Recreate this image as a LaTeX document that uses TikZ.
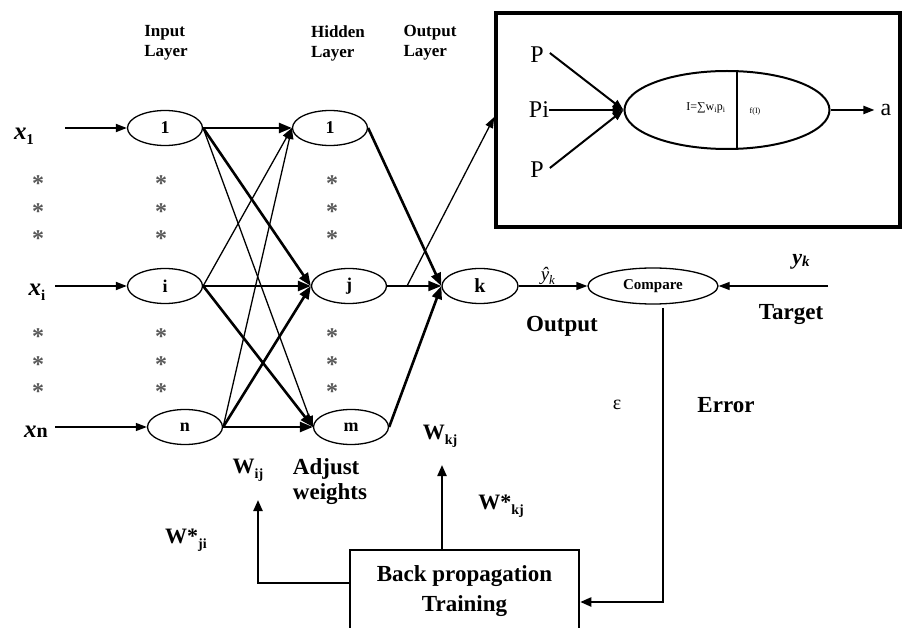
\documentclass[tikz,border=0pt]{standalone}
\usepackage{fontspec}
\setmainfont{Liberation Serif}
\usetikzlibrary{arrows.meta,shapes.geometric,calc}
\begin{document}
\begin{tikzpicture}[x=1pt,y=-1pt,
  neu/.style={ellipse, draw, line width=1.3pt, minimum width=75pt, minimum height=35pt, inner sep=0pt, font=\fontsize{18}{20}\selectfont\bfseries},
  thk/.style={line width=2.6pt, -{Triangle[length=13pt,width=10pt]}},
  thn/.style={line width=1.3pt, -{Triangle[length=11pt,width=8pt]}},
  fb/.style={line width=2.2pt, -{Triangle[length=11pt,width=9pt]}},
  lay/.style={font=\fontsize{17}{20}\selectfont\bfseries, align=left, inner sep=0pt},
  big/.style={font=\fontsize{23}{26}\selectfont\bfseries, align=left, inner sep=0pt},
  wl/.style={font=\fontsize{22}{22}\selectfont\bfseries, inner sep=0pt},
  star/.style={font=\fontsize{24}{24}\selectfont\bfseries, text=black!65, inner sep=0pt, anchor=base},
  xl/.style={font=\fontsize{25}{25}\selectfont\bfseries, inner sep=0pt},
  pl/.style={font=\fontsize{24}{24}\selectfont, inner sep=0pt}
]
\useasboundingbox (0,0) rectangle (903,628);

% layer titles
\node[lay] (tin) at (166,43) {Input\\Layer};
\node[lay] (thid) at (338,43) {Hidden\\Layer};
\node[lay] (tout) at (430,43) {Output\\Layer};

% neurons
\node[neu] (in1) at (165,128) {1};
\node[neu] (ini) at (165,286) {i};
\node[neu] (inn) at (185,427) {n};
\node[neu] (h1) at (330,128) {1};
\node[neu] (hj) at (349,286) {j};
\node[neu] (hm) at (351,427) {m};
\node[neu, minimum width=76pt, font=\fontsize{20}{20}\selectfont\bfseries] (k) at (480,286) {k};
\node[neu, minimum width=130pt, minimum height=36pt, font=\fontsize{15}{15}\selectfont\bfseries] (cmp) at (653,286) {Compare};

% input labels and arrows
\node[xl] (x1) at (24,136) {\textit{x}\raisebox{-5pt}{\fontsize{15}{15}\selectfont 1}};
\node[xl] (xi) at (37,292) {\textit{x}\raisebox{-5pt}{\fontsize{15}{15}\selectfont i}};
\node[xl] (xn) at (36,432) {\textit{x}\fontsize{20}{20}\selectfont n};
\coordinate (s1) at (65,128);
\coordinate (si) at (55,286);
\coordinate (sn) at (55,427);
\draw[thn, line width=1.8pt] (s1) -- (in1.west);
\draw[thn, line width=1.8pt] (si) -- (ini.west);
\draw[thn, line width=1.3pt] (sn) -- (inn.west);

% stars
\foreach \sx in {38,161,332}{
  \foreach \sy in {180,208,235,333,361,388}{
    \node[star] at (\sx,\sy+12) {*};
  }
}

% input -> hidden
\draw[thk] (in1.east) -- (h1.west);
\draw[thk] (in1.east) -- (hj.west);
\draw[thn] (in1.east) -- (hm.west);
\draw[thn] (ini.east) -- (h1.west);
\draw[thk] (ini.east) -- (hj.west);
\draw[thk] (ini.east) -- (hm.west);
\draw[thn] (inn.east) -- (h1.west);
\draw[thk] (inn.east) -- (hj.west);
\draw[thk] (inn.east) -- (hm.west);

% hidden -> output
\draw[thk] (h1.east) -- (k.west);
\draw[thk, line width=2pt] (hj.east) -- (k.west);
\draw[thk] (hm.east) -- (k.west);

% big neuron box
\node[draw, line width=3.5pt, minimum width=404pt, minimum height=214pt, inner sep=0pt] (bigbox) at (698,120) {};
\coordinate (br) at (407,286);
\draw[thn] (br) -- ([yshift=3pt]bigbox.west);

\node[ellipse, draw, line width=2pt, minimum width=205pt, minimum height=78pt, inner sep=0pt] (neuron) at (727,110) {};
\draw[line width=2pt] ([xshift=10pt]neuron.north) -- ([xshift=10pt]neuron.south);
\node[inner sep=0pt, font=\fontsize{12}{12}\selectfont] (formula) at (706,108) {I=∑w\textsubscript{i}p\textsubscript{i}};
\node[inner sep=0pt, font=\fontsize{8}{8}\selectfont] (fI) at (755,112) {f(I)};
\node[pl] (p1) at (537,55) {P};
\node[pl] (p2) at (539,110) {Pi};
\node[pl] (p3) at (537,170) {P};
\node[pl] (aout) at (886,110) {a};
\draw[thn, line width=2pt] ([xshift=6pt,yshift=2pt]p1.east) -- (neuron.west);
\draw[thn, line width=2pt] (p2.east) -- (neuron.west);
\draw[thn, line width=2pt] ([xshift=6pt,yshift=2pt]p3.east) -- (neuron.west);
\draw[thn, line width=2pt] (neuron.east) -- ([xshift=-6pt]aout.west);

% output / compare / target
\coordinate (tgt) at (828,286);
\draw[thn] (k.east) -- (cmp.west);
\draw[thn] (tgt) -- (cmp.east);
\node[inner sep=0pt, font=\fontsize{19}{19}\selectfont] (yhat) at (548,276) {\textit{ŷ}\raisebox{-4pt}{\fontsize{13}{13}\selectfont\textit{k}}};
\node[inner sep=0pt, font=\fontsize{22}{22}\selectfont\bfseries] (yk) at (801,262) {\textit{y}\raisebox{-2pt}{\fontsize{15}{15}\selectfont\textit{k}}};
\node[big] (outl) at (562,326) {Output};
\node[big] (tgtl) at (791,315) {Target};
\node[big] (errl) at (726,405) {Error};
\node[inner sep=0pt, font=\fontsize{20}{20}\selectfont] (eps) at (617,405) {ε};

% back propagation box
\node[draw, line width=2.5pt, minimum width=229pt, minimum height=82pt, align=center, font=\fontsize{23}{30}\selectfont\bfseries] (bp) at (464.5,591) {Back propagation\\Training};
\coordinate (errtop) at (663,308);
\draw[fb] (errtop) |- ([yshift=-11pt]bp.east);
\coordinate (wij) at (258,500);
\draw[fb] ([yshift=8pt]bp.west) -| (wij);
\coordinate (wkj) at (442,465);
\draw[fb] (bp.north -| wkj) -- (wkj);

% weight labels
\node[wl] (wijl) at (248,470) {W\raisebox{-5pt}{\fontsize{14}{14}\selectfont ij}};
\node[wl] (wkjl) at (440,436) {W\raisebox{-5pt}{\fontsize{14}{14}\selectfont kj}};
\node[wl] (wskj) at (501,506) {W*\raisebox{-5pt}{\fontsize{14}{14}\selectfont kj}};
\node[wl] (wsji) at (186,540) {W*\raisebox{-5pt}{\fontsize{14}{14}\selectfont ji}};
\node[big, font=\fontsize{23}{25}\selectfont\bfseries] (adj) at (330,482) {Adjust\\weights};
\end{tikzpicture}
\end{document}
